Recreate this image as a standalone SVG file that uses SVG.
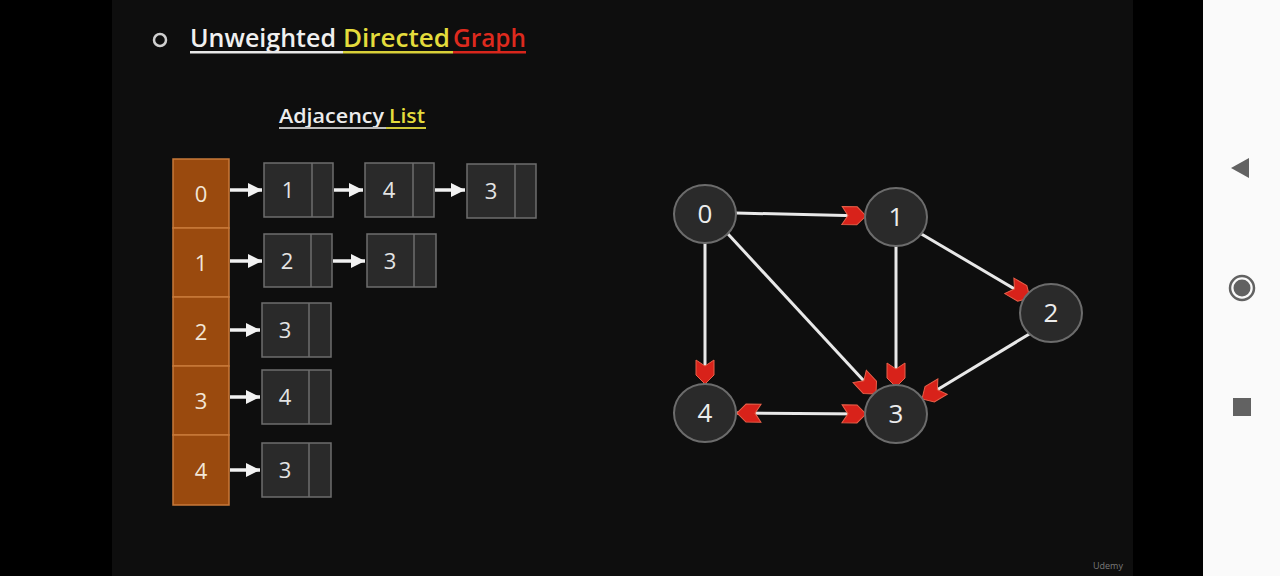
<svg xmlns="http://www.w3.org/2000/svg" width="1280" height="576" viewBox="0 0 1280 576">
<style>
.t{font-family:"Open Sans",Lato,"Liberation Sans",sans-serif;font-weight:600}
.cell{fill:#9a4a0e;stroke:#c8793a;stroke-width:1.5}
.cellt{font-family:"Open Sans",Lato,"Liberation Sans",sans-serif;font-size:22px;fill:#f2e6d6;text-anchor:middle}
.box{fill:#2a2a2a;stroke:#6e6e6e;stroke-width:1.5}
.boxt{font-family:"Open Sans",Lato,"Liberation Sans",sans-serif;font-size:22px;fill:#e4e4e4;text-anchor:middle}
.la{stroke:#f2f2f2;stroke-width:3.5;fill:none}
.node{fill:#2a2a2a;stroke:#6c6c6c;stroke-width:2}
.nodet{font-family:"Open Sans",Lato,"Liberation Sans",sans-serif;font-size:26px;fill:#ececec;text-anchor:middle}
.edge{stroke:#e8e8e8;stroke-width:3;fill:none}
</style>
<defs>
<marker id="wa" markerUnits="userSpaceOnUse" markerWidth="16" markerHeight="16" refX="14" refY="8" orient="auto">
<path d="M0,1 L14,8 L0,15 Z" fill="#f2f2f2"/>
</marker>
<marker id="ra" markerUnits="userSpaceOnUse" markerWidth="28" markerHeight="22" refX="25" refY="11" orient="auto">
<path d="M1,2 L16,2 L25,11 L16,20 L1,20 L7,11 Z" fill="#d8221a" stroke="#e8604a" stroke-width="1"/>
</marker>
<marker id="rs" markerUnits="userSpaceOnUse" markerWidth="28" markerHeight="22" refX="25" refY="11" orient="auto-start-reverse">
<path d="M1,2 L16,2 L25,11 L16,20 L1,20 L7,11 Z" fill="#d8221a" stroke="#e8604a" stroke-width="1"/>
</marker>
</defs>
<rect width="1280" height="576" fill="#000"/>
<rect x="112" y="0" width="1021" height="576" fill="#0e0e0e"/>
<rect x="1203" y="0" width="77" height="576" fill="#fafafa"/>
<g id="navbar" fill="#626262">
<path d="M1231,168 L1249,158 L1249,178 Z"/>
<circle cx="1242" cy="288" r="12" fill="none" stroke="#626262" stroke-width="2.5"/>
<circle cx="1242" cy="288" r="8.5"/>
<rect x="1233" y="398" width="18" height="18"/>
</g>
<g id="title">
<circle cx="160" cy="40" r="6" fill="none" stroke="#cfcfcf" stroke-width="2.5"/>
<text class="t" x="190" y="47" font-size="25" fill="#f0f0f0" textLength="146" lengthAdjust="spacingAndGlyphs">Unweighted</text>
<text class="t" x="343" y="47" font-size="25" fill="#e4dc3c" textLength="107" lengthAdjust="spacingAndGlyphs">Directed</text>
<text class="t" x="453" y="47" font-size="25" fill="#dd2a1e" textLength="73" lengthAdjust="spacingAndGlyphs">Graph</text>
<rect x="190" y="51" width="153" height="2.5" fill="#e8e8e8"/>
<rect x="343" y="51" width="110" height="2.5" fill="#d8d038"/>
<rect x="453" y="51" width="73" height="2.5" fill="#d8261c"/>
</g>
<g id="subtitle">
<text class="t" x="279" y="123" font-size="20" fill="#ececec" textLength="105" lengthAdjust="spacingAndGlyphs">Adjacency</text>
<text class="t" x="389" y="123" font-size="20" fill="#e4dc3c" textLength="36" lengthAdjust="spacingAndGlyphs">List</text>
<rect x="279" y="127" width="107" height="2" fill="#bdbdbd"/>
<rect x="386" y="127" width="40" height="2" fill="#cfc838"/>
</g>
<g id="array">
<rect class="cell" x="173" y="159" width="56" height="69"/>
<rect class="cell" x="173" y="228" width="56" height="69"/>
<rect class="cell" x="173" y="297" width="56" height="69"/>
<rect class="cell" x="173" y="366" width="56" height="69"/>
<rect class="cell" x="173" y="435" width="56" height="70"/>
<text class="cellt" x="201" y="202">0</text>
<text class="cellt" x="201" y="271">1</text>
<text class="cellt" x="201" y="340">2</text>
<text class="cellt" x="201" y="409">3</text>
<text class="cellt" x="201" y="479">4</text>
</g>
<g id="list-nodes">
<g id="l0a"><rect class="box" x="264" y="163" width="69" height="54"/><line x1="312" y1="163" x2="312" y2="217" stroke="#6e6e6e" stroke-width="1.5"/><text class="boxt" x="288" y="198">1</text></g>
<g id="l0b"><rect class="box" x="365" y="163" width="69" height="54"/><line x1="413" y1="163" x2="413" y2="217" stroke="#6e6e6e" stroke-width="1.5"/><text class="boxt" x="389" y="198">4</text></g>
<g id="l0c"><rect class="box" x="467" y="164" width="69" height="54"/><line x1="515" y1="164" x2="515" y2="218" stroke="#6e6e6e" stroke-width="1.5"/><text class="boxt" x="491" y="199">3</text></g>
<g id="l1a"><rect class="box" x="264" y="234" width="68" height="53"/><line x1="311" y1="234" x2="311" y2="287" stroke="#6e6e6e" stroke-width="1.5"/><text class="boxt" x="287" y="269">2</text></g>
<g id="l1b"><rect class="box" x="367" y="234" width="69" height="53"/><line x1="414" y1="234" x2="414" y2="287" stroke="#6e6e6e" stroke-width="1.5"/><text class="boxt" x="390" y="269">3</text></g>
<g id="l2a"><rect class="box" x="262" y="303" width="69" height="54"/><line x1="309" y1="303" x2="309" y2="357" stroke="#6e6e6e" stroke-width="1.5"/><text class="boxt" x="285" y="338">3</text></g>
<g id="l3a"><rect class="box" x="262" y="370" width="69" height="54"/><line x1="309" y1="370" x2="309" y2="424" stroke="#6e6e6e" stroke-width="1.5"/><text class="boxt" x="285" y="405">4</text></g>
<g id="l4a"><rect class="box" x="262" y="443" width="69" height="54"/><line x1="309" y1="443" x2="309" y2="497" stroke="#6e6e6e" stroke-width="1.5"/><text class="boxt" x="285" y="478">3</text></g>
</g>
<g id="list-arrows">
<line class="la" x1="230" y1="190" x2="262" y2="190" marker-end="url(#wa)"/>
<line class="la" x1="334" y1="190" x2="363" y2="190" marker-end="url(#wa)"/>
<line class="la" x1="435" y1="190" x2="465" y2="190" marker-end="url(#wa)"/>
<line class="la" x1="230" y1="261" x2="262" y2="261" marker-end="url(#wa)"/>
<line class="la" x1="333" y1="261" x2="365" y2="261" marker-end="url(#wa)"/>
<line class="la" x1="230" y1="330" x2="260" y2="330" marker-end="url(#wa)"/>
<line class="la" x1="230" y1="397" x2="260" y2="397" marker-end="url(#wa)"/>
<line class="la" x1="230" y1="470" x2="260" y2="470" marker-end="url(#wa)"/>
</g>
<g id="edges">
<line class="edge" x1="736" y1="213" x2="866" y2="216" marker-end="url(#ra)"/>
<line class="edge" x1="918" y1="232" x2="1030" y2="298" marker-end="url(#ra)"/>
<line class="edge" x1="728" y1="234" x2="876" y2="394" marker-end="url(#ra)"/>
<line class="edge" x1="896" y1="245" x2="896" y2="387" marker-end="url(#ra)"/>
<line class="edge" x1="1031" y1="333" x2="922" y2="399" marker-end="url(#ra)"/>
<line class="edge" x1="705" y1="242" x2="705" y2="384" marker-end="url(#ra)"/>
<line class="edge" x1="737" y1="413" x2="866" y2="414" marker-start="url(#rs)" marker-end="url(#ra)"/>
</g>
<g id="n0"><ellipse class="node" cx="705" cy="214" rx="31" ry="29"/><text class="nodet" x="705" y="223">0</text></g>
<g id="n1"><ellipse class="node" cx="896" cy="217" rx="31" ry="29"/><text class="nodet" x="896" y="226">1</text></g>
<g id="n2"><ellipse class="node" cx="1051" cy="313" rx="31" ry="29"/><text class="nodet" x="1051" y="322">2</text></g>
<g id="n3"><ellipse class="node" cx="896" cy="414" rx="31" ry="29"/><text class="nodet" x="896" y="423">3</text></g>
<g id="n4"><ellipse class="node" cx="705" cy="413" rx="31" ry="29"/><text class="nodet" x="705" y="422">4</text></g>
<text x="1093" y="569" font-family="Open Sans,sans-serif" font-size="9" fill="#7a7a7a">Udemy</text>
</svg>
